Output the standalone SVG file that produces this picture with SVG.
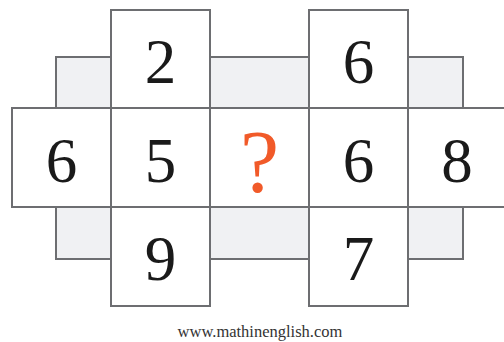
<svg xmlns="http://www.w3.org/2000/svg" width="504" height="342" viewBox="0 0 504 342">
<style>
.g{fill:#f0f1f3;stroke:#6d6e71;stroke-width:2}
.b{fill:#ffffff;stroke:#6d6e71;stroke-width:2}
.n{font-family:"Liberation Serif",serif;font-size:63px;fill:#1a1a1a;text-anchor:middle}
.q{font-family:"Liberation Serif",serif;font-size:88px;fill:#f15a29;text-anchor:middle}
.w{font-family:"Liberation Serif",serif;font-size:16.5px;fill:#333333;text-anchor:middle}
</style>
<rect width="504" height="342" fill="#ffffff"/>
<g id="strips">
<rect class="g" x="56" y="57" width="55" height="51"/>
<rect class="g" x="210" y="57" width="99" height="51"/>
<rect class="g" x="408" y="57" width="55" height="51"/>
<rect class="g" x="56" y="207" width="55" height="52"/>
<rect class="g" x="210" y="207" width="99" height="52"/>
<rect class="g" x="408" y="207" width="55" height="52"/>
</g>
<g id="n-top2"><rect class="b" x="111" y="10" width="99" height="98"/><text class="n" x="160.5" y="83">2</text></g>
<g id="n-top6"><rect class="b" x="309" y="10" width="99" height="98"/><text class="n" x="358.5" y="83">6</text></g>
<g id="n-left6"><rect class="b" x="12" y="108" width="99" height="99"/><text class="n" x="61.5" y="182">6</text></g>
<g id="n-5"><rect class="b" x="111" y="108" width="99" height="99"/><text class="n" x="160.5" y="182">5</text></g>
<g id="n-q"><rect class="b" x="210" y="108" width="99" height="99"/><text class="q" x="259.5" y="191">?</text></g>
<g id="n-6"><rect class="b" x="309" y="108" width="99" height="99"/><text class="n" x="358.5" y="182">6</text></g>
<g id="n-8"><rect class="b" x="408" y="108" width="100" height="99"/><text class="n" x="457" y="182">8</text></g>
<g id="n-9"><rect class="b" x="111" y="207" width="99" height="99"/><text class="n" x="160.5" y="280">9</text></g>
<g id="n-7"><rect class="b" x="309" y="207" width="99" height="99"/><text class="n" x="358.5" y="280">7</text></g>
<g id="connectors"></g>
<text class="w" x="260" y="337">www.mathinenglish.com</text>
</svg>
